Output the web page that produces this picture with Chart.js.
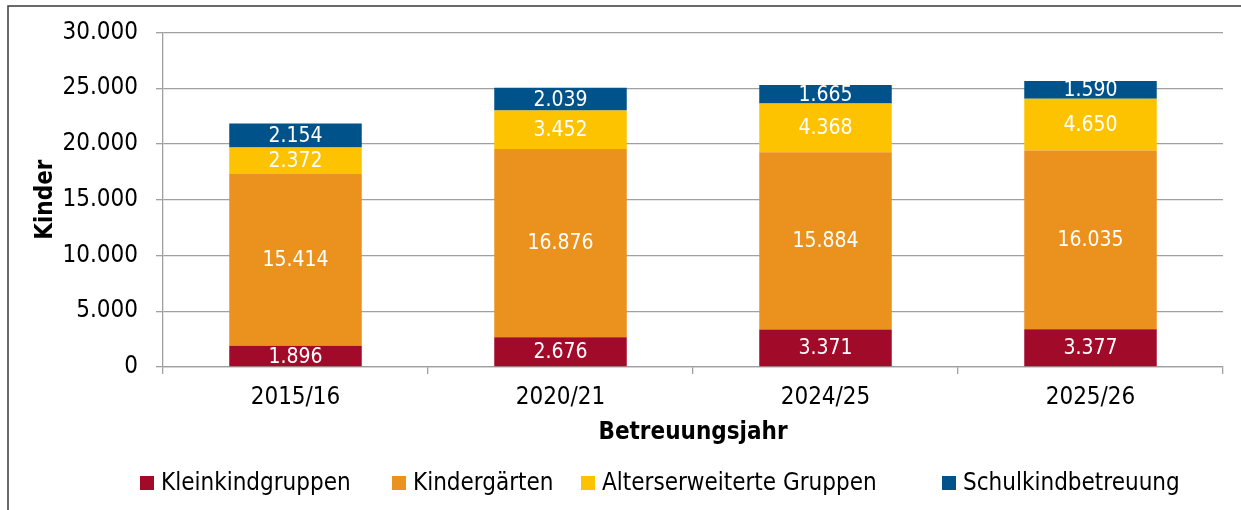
<!DOCTYPE html>
<html>
<head>
<meta charset="utf-8">
<script src="https://cdn.jsdelivr.net/npm/chart.js@4.4.1/dist/chart.umd.min.js"></script>
<style>
  html, body { margin: 0; padding: 0; background: #fff; }
  #wrap { width: 1241px; height: 510px; position: relative; }
</style>
</head>
<body>
<div id="wrap"><canvas id="c" width="1241" height="510"></canvas></div>
<script>
// ---- data ----
const categories = ['2015/16', '2020/21', '2024/25', '2025/26'];
const seriesNames = ['Kleinkindgruppen', 'Kindergärten', 'Alterserweiterte Gruppen', 'Schulkindbetreuung'];
const kleinkindgruppen = [1896, 2676, 3371, 3377];
const kindergaerten = [15414, 16876, 15884, 16035];
const alterserweiterte = [2372, 3452, 4368, 4650];
const schulkindbetreuung = [2154, 2039, 1665, 1590];
const yTicks = [0, 5000, 10000, 15000, 20000, 25000, 30000];
const yTitle = 'Kinder';
const xTitle = 'Betreuungsjahr';

const colors = ['#A20A2A', '#EB921E', '#FDC300', '#00538A'];
const FONT = '"DejaVu Sans Condensed", "DejaVu Sans", sans-serif';

function fmt(n) { return String(n).replace(/\B(?=(\d{3})+(?!\d))/g, '.'); }

const seriesValues = [kleinkindgruppen, kindergaerten, alterserweiterte, schulkindbetreuung];

const frame = {
  id: 'frame',
  beforeDraw(chart) {
    const ctx = chart.ctx;
    ctx.save();
    ctx.strokeStyle = '#3a3a3a';
    ctx.lineWidth = 1.5;
    ctx.beginPath();
    ctx.moveTo(8, 512);
    ctx.lineTo(8, 6);
    ctx.lineTo(1243, 6);
    ctx.stroke();
    ctx.restore();
  }
};

const barLabels = {
  id: 'barLabels',
  afterDatasetsDraw(chart) {
    const ctx = chart.ctx;
    ctx.save();
    ctx.fillStyle = '#ffffff';
    ctx.font = '21px ' + FONT;
    ctx.textAlign = 'center';
    ctx.textBaseline = 'middle';
    chart.data.datasets.forEach((ds, i) => {
      const meta = chart.getDatasetMeta(i);
      meta.data.forEach((el, j) => {
        const y = (el.y + el.base) / 2;
        ctx.fillText(fmt(ds.data[j]), el.x, y + 1);
      });
    });
    ctx.restore();
  }
};

// legend item start positions (layout only)
const legendStarts = [140, 392, 581, 942];
const customLegend = {
  id: 'customLegend',
  afterDraw(chart) {
    const ctx = chart.ctx;
    ctx.save();
    ctx.font = '24px ' + FONT;
    const box = 14, gap = 7;
    const baseY = 490;
    ctx.textBaseline = 'alphabetic';
    ctx.textAlign = 'left';
    chart.data.datasets.forEach((ds, i) => {
      const x = legendStarts[i];
      ctx.fillStyle = ds.backgroundColor;
      ctx.fillRect(x, baseY - 14, box, box);
      ctx.fillStyle = '#000000';
      ctx.fillText(ds.label, x + box + gap, baseY);
    });
    ctx.restore();
  }
};

new Chart(document.getElementById('c'), {
  type: 'bar',
  data: {
    labels: categories,
    datasets: seriesNames.map((name, i) => ({
      label: name,
      data: seriesValues[i],
      backgroundColor: colors[i],
      borderWidth: 0,
      barPercentage: 0.5,
      categoryPercentage: 1.0
    }))
  },
  options: {
    responsive: false,
    animation: false,
    devicePixelRatio: 1,
    layout: { padding: { left: 20, right: 18, top: 31, bottom: 63 } },
    plugins: {
      legend: { display: false },
      tooltip: { enabled: false }
    },
    scales: {
      x: {
        stacked: true,
        offset: true,
        grid: { display: true, drawOnChartArea: false, drawTicks: true, tickLength: 7, color: '#a0a0a0', lineWidth: 1.3, offset: true },
        border: { display: true, color: '#a0a0a0', width: 1.3 },
        ticks: { color: '#000', font: { family: FONT, size: 24 }, padding: 9, maxRotation: 0 },
        title: { display: true, text: xTitle, color: '#000', font: { family: FONT, size: 24, weight: 'bold' }, padding: { top: 0, bottom: 0 } },
        afterFit(scale) { scale.height = 80; }
      },
      y: {
        stacked: true,
        min: 0,
        max: 30000,
        afterBuildTicks(scale) { scale.ticks = yTicks.map(v => ({ value: v })); },
        grid: { color: '#a0a0a0', lineWidth: 1.3, drawTicks: true, tickLength: 7 },
        border: { display: true, color: '#a0a0a0', width: 1.3 },
        ticks: { color: '#000', font: { family: FONT, size: 24 }, padding: 18, callback: v => fmt(v) },
        title: { display: true, text: yTitle, color: '#000', font: { family: FONT, size: 24, weight: 'bold' }, padding: { top: 11, bottom: 0 } },
        afterFit(scale) { scale.width = 163 - 20; }
      }
    }
  },
  plugins: [frame, barLabels, customLegend]
});
</script>
</body>
</html>
